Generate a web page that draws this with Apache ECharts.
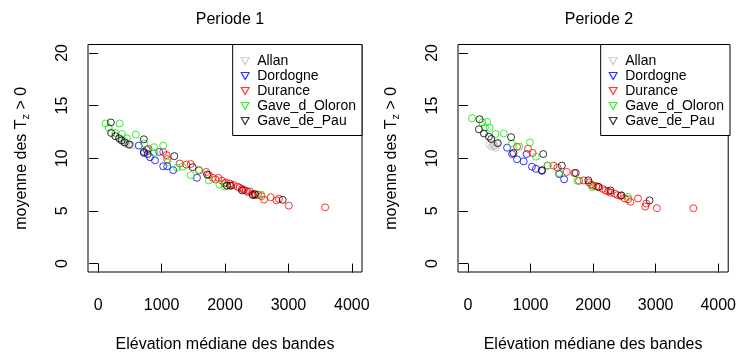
<!DOCTYPE html>
<html>
<head>
<meta charset="utf-8">
<script src="https://cdn.jsdelivr.net/npm/echarts@6/dist/echarts.min.js"></script>
<style>html,body{margin:0;padding:0;background:#fff}#c{width:739px;height:358px}</style>
</head>
<body>
<div id="c"></div>
<script>
// ---- data ----
const seriesNames = ['Allan', 'Dordogne', 'Durance', 'Gave_d_Oloron', 'Gave_de_Pau'];
const seriesColors = ['#BEBEBE', '#0000FF', '#FF0000', '#00EE00', '#000000'];
const panelTitles = ['Periode 1', 'Periode 2'];
const xTicks = [0, 1000, 2000, 3000, 4000];
const yTicks = [0, 5, 10, 15, 20];

// Periode 1
const p1Allan = [[340,11.8],[380,11.6],[410,11.5],[440,11.4],[470,11.3],[510,11.3],[420,11.7],[540,11.2]];
const p1Dordogne = [[641,11.2],[724,10.5],[766,10.8],[818,10.1],[896,9.8],[964,10.6],[1026,9.24],[1089,9.24],[1183,8.87],[1558,8.14]];
const p1Durance = [[792,10.9],[1026,10.6],[1078,10.3],[1089,9.9],[1287,9.5],[1391,9.4],[1459,9.45],[1589,8.84],[1704,8.7],[1745,8.4],[1808,8.14],[1850,8.0],[1896,8.14],[1954,7.87],[1990,7.6],[2016,7.7],[2079,7.6],[2100,7.4],[2136,7.47],[2199,7.3],[2230,7.2],[2266,7.1],[2300,7.0],[2329,6.92],[2360,6.8],[2391,6.86],[2433,6.6],[2485,6.5],[2520,6.55],[2574,6.4],[2616,6.07],[2720,6.3],[2813,6.0],[2850,6.15],[3006,5.5],[3579,5.34]];
const p1Oloron = [[115,13.3],[339,13.3],[167,12.9],[271,12.4],[375,12.3],[453,11.9],[594,12.25],[724,11.4],[880,11.05],[1026,11.2],[885,10.5],[1094,9.6],[1245,9.1],[1329,9.2],[1459,8.4],[1589,8.9],[1745,7.9],[1912,7.5],[1996,7.3],[2569,6.55]];
const p1Pau = [[200,13.4],[205,12.4],[270,12.1],[330,11.9],[370,11.7],[420,11.5],[490,11.3],[720,11.8],[720,10.6],[780,10.4],[1200,10.2],[1490,9.15],[1720,8.45],[2030,7.4],[2080,7.4],[2270,6.95],[2440,6.5],[2470,6.6],[2910,6.05]];

// Periode 2
const p2Allan = [[344,11.3],[380,11.1],[410,11.2],[440,11.0],[460,11.4],[400,11.4],[430,11.2]];
const p2Dordogne = [[625,11.0],[705,10.4],[784,9.9],[890,9.7],[938,10.4],[1022,9.2],[1086,9.0],[1181,8.8],[1457,8.5],[1537,8.0]];
const p2Durance = [[784,11.1],[1033,10.5],[960,10.9],[1272,9.3],[1367,9.3],[1431,9.1],[1579,8.7],[1700,8.6],[1775,7.86],[1850,7.9],[1934,7.7],[1970,7.5],[2003,7.4],[2050,7.35],[2093,7.25],[2150,7.1],[2199,6.94],[2240,6.85],[2278,6.73],[2347,6.64],[2390,6.5],[2437,6.42],[2506,6.18],[2560,6.1],[2596,5.87],[2718,6.18],[2834,5.41],[2850,5.7],[3020,5.26],[3603,5.26]];
const p2Oloron = [[64,13.8],[228,13.4],[307,13.45],[344,12.9],[270,12.9],[440,12.3],[572,12.35],[705,11.4],[821,11.1],[991,11.5],[1086,10.15],[1272,9.3],[1457,8.6],[1748,7.86],[1987,7.25],[2559,6.33]];
const p2Pau = [[185,13.7],[175,12.75],[254,12.35],[334,12.05],[371,11.83],[477,11.44],[689,12.0],[726,10.5],[1203,10.4],[1181,8.87],[1500,9.3],[1722,8.6],[1923,7.9],[2082,7.3],[2278,6.94],[2453,6.48],[2903,6.0]];

const periods = [
  [p1Allan, p1Dordogne, p1Durance, p1Oloron, p1Pau],
  [p2Allan, p2Dordogne, p2Durance, p2Oloron, p2Pau]
];

// ---- chart ----
const FF = 'Liberation Sans, Arial, sans-serif';
const grids = [
  {left: 88, top: 44.5, width: 274, height: 234},
  {left: 458, top: 44.5, width: 272, height: 234}
];
const triIcon = 'path://M0,0L10,0L5,9Z';

const option = {
  animation: false,
  backgroundColor: '#fff',
  textStyle: {fontFamily: FF},
  title: panelTitles.map((t, i) => ({
    text: t,
    left: grids[i].left + grids[i].width / 2,
    textAlign: 'center',
    top: 7,
    textStyle: {fontSize: 16, fontWeight: 'normal', color: '#000', fontFamily: FF}
  })),
  grid: grids.map(g => Object.assign({show: true, borderColor: '#000', borderWidth: 1, backgroundColor: 'transparent'}, g)),
  legend: grids.map((g, i) => ({
    orient: 'vertical',
    right: 739 - (g.left + g.width),
    top: 44.5,
    padding: [9, 6, 7, 8],
    itemGap: 0,
    itemWidth: 8,
    itemHeight: 7,
    borderColor: '#000',
    borderWidth: 1,
    backgroundColor: '#fff',
    textStyle: {fontSize: 14, color: '#000', fontFamily: FF, lineHeight: 15, padding: [0, 0, 0, 3]},
    data: seriesNames.map((n, k) => ({
      name: n, icon: triIcon,
      itemStyle: {color: 'rgba(0,0,0,0)', borderColor: seriesColors[k], borderWidth: 1.2}
    }))
  })),
  xAxis: grids.map((g, i) => ({
    type: 'value', gridIndex: i, min: -160, max: 4160,
    axisLine: {show: false},
    splitLine: {show: false},
    axisTick: {show: true, length: 9, lineStyle: {color: '#000'}, customValues: xTicks},
    axisLabel: {customValues: xTicks, margin: 26, fontSize: 16, color: '#000', fontFamily: FF,
      formatter: v => String(v)},
    name: 'Elévation médiane des bandes',
    nameLocation: 'middle', nameGap: 65,
    nameTextStyle: {fontSize: 16, color: '#000', fontFamily: FF}
  })),
  yAxis: grids.map((g, i) => ({
    type: 'value', gridIndex: i, min: -0.8, max: 20.8,
    axisLine: {show: false},
    splitLine: {show: false},
    axisTick: {show: true, length: 9, lineStyle: {color: '#000'}, customValues: yTicks},
    axisLabel: {customValues: yTicks, margin: 17, rotate: 90, fontSize: 16, color: '#000', fontFamily: FF,
      formatter: v => String(v)},
    name: 'moyenne des T{sub|z} > 0',
    nameLocation: 'middle', nameGap: 57,
    nameTextStyle: {fontSize: 16, color: '#000', fontFamily: FF,
      rich: {sub: {fontSize: 11, color: '#000', fontFamily: FF, padding: [8, 0, 0, 0]}}}
  })),
  series: []
};

periods.forEach((sets, i) => {
  sets.forEach((d, k) => {
    option.series.push({
      type: 'scatter', name: seriesNames[k], xAxisIndex: i, yAxisIndex: i,
      data: d, symbol: 'circle', symbolSize: 7,
      itemStyle: {color: 'rgba(0,0,0,0)', borderColor: seriesColors[k], borderWidth: 1},
      emphasis: {disabled: true}
    });
  });
});

const chart = echarts.init(document.getElementById('c'), null, {renderer: 'canvas'});
chart.setOption(option);
</script>
</body>
</html>
